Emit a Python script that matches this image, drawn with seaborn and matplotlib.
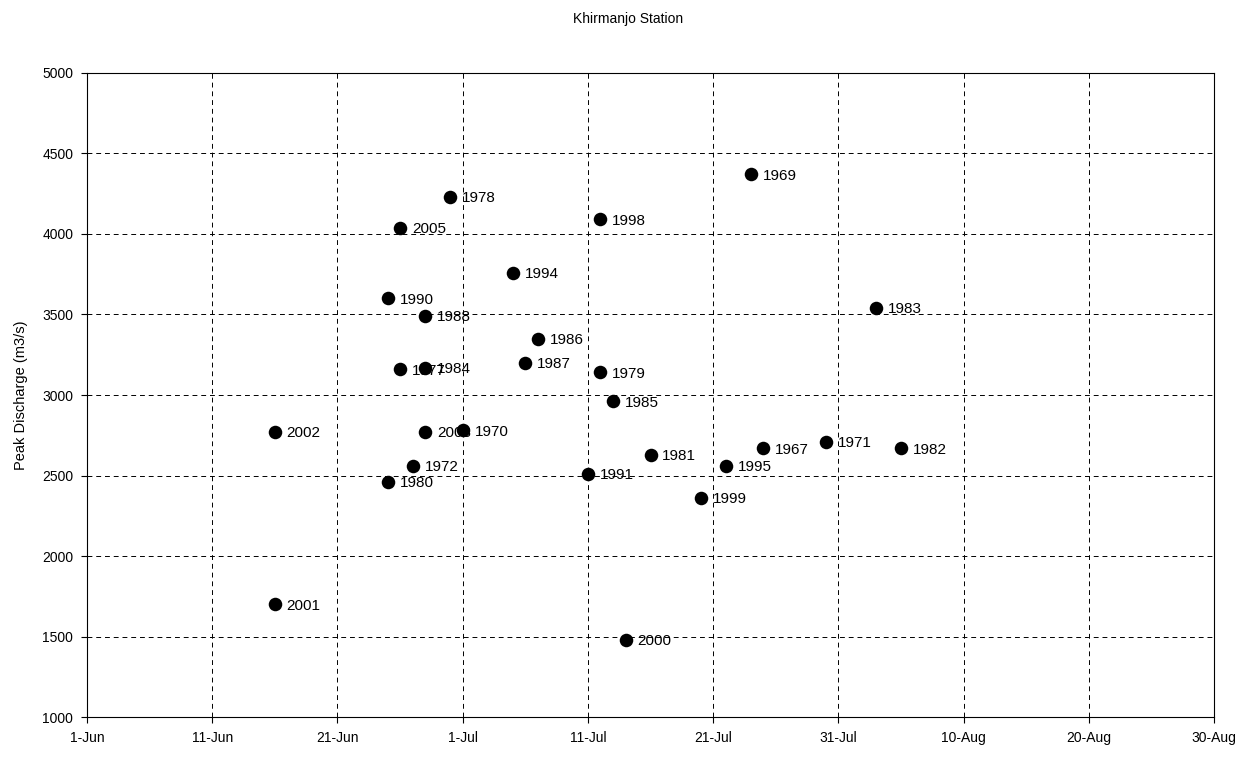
import pandas as pd
import matplotlib
matplotlib.use("Agg")
import matplotlib.pyplot as plt
import seaborn as sns

years = [2002, 2001, 1980, 1990, 1977, 2005, 1972, 1988, 1984, 2003,
         1978, 1970, 1994, 1987, 1986, 1991, 1998, 1979, 1985, 2000,
         1981, 1999, 1995, 1969, 1967, 1971, 1983, 1982]
peak_dates = ["16-Jun", "16-Jun", "25-Jun", "25-Jun", "26-Jun", "26-Jun", "27-Jun", "28-Jun", "28-Jun", "28-Jun",
              "30-Jun", "1-Jul", "5-Jul", "6-Jul", "7-Jul", "11-Jul", "12-Jul", "12-Jul", "13-Jul", "14-Jul",
              "16-Jul", "20-Jul", "22-Jul", "24-Jul", "25-Jul", "30-Jul", "3-Aug", "5-Aug"]
peak_q = [2770, 1700, 2460, 3600, 3160, 4040, 2560, 3490, 3170, 2770,
          4230, 2780, 3760, 3200, 3350, 2510, 4090, 3140, 2960, 1480,
          2630, 2360, 2560, 4370, 2670, 2710, 3540, 2670]

x_ticks = ["1-Jun", "11-Jun", "21-Jun", "1-Jul", "11-Jul", "21-Jul", "31-Jul", "10-Aug", "20-Aug", "30-Aug"]

def to_date(s):
    return pd.to_datetime(s + "-2001", format="%d-%b-%Y")

df = pd.DataFrame({
    "year": years,
    "date": [to_date(d) for d in peak_dates],
    "q": peak_q,
})

sns.set_style("white")
plt.rcParams["font.family"] = ["Liberation Sans", "DejaVu Sans"]
plt.rcParams["text.color"] = "black"
plt.rcParams["axes.labelcolor"] = "black"
plt.rcParams["xtick.color"] = "black"
plt.rcParams["ytick.color"] = "black"

fig = plt.figure(figsize=(12.56, 7.57), dpi=100)
ax = fig.add_axes([0.0693, 0.0528, 0.8973, 0.8508])

sns.scatterplot(data=df, x="date", y="q", color="black", s=95, edgecolor="black",
                linewidth=0, ax=ax, zorder=3)

for _, r in df.iterrows():
    ax.annotate(str(r["year"]), (r["date"], r["q"]), xytext=(8.5, -1),
                textcoords="offset points", va="center", ha="left", fontsize=11)

tick_dates = [to_date(t) for t in x_ticks]
ax.set_xlim(tick_dates[0], tick_dates[-1])
ax.set_xticks(tick_dates)
ax.set_xticklabels(x_ticks)
ax.set_ylim(1000, 5000)
ax.set_yticks(range(1000, 5001, 500))

ax.grid(True, linestyle=(0, (5, 4)), color="black", linewidth=0.7)
for sp in ax.spines.values():
    sp.set_color("black")
    sp.set_linewidth(0.8)
ax.tick_params(axis="both", labelsize=10, length=4, direction="out",
               bottom=True, left=True, pad=6)
ax.set_xlabel("")
ax.set_ylabel("Peak Discharge (m3/s)", fontsize=10.5, labelpad=10)
fig.text(0.5, 0.975, "Khirmanjo Station", ha="center", va="center", fontsize=10)

fig.savefig("out.png", dpi=100)
